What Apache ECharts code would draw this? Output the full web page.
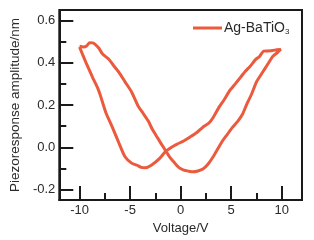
<!DOCTYPE html>
<html>
<head>
<meta charset="utf-8">
<script src="https://cdn.jsdelivr.net/npm/echarts@6/dist/echarts.min.js"></script>
<style>html,body{margin:0;padding:0;background:#fff;}#c{width:314px;height:240px;}</style>
</head>
<body>
<div id="c"></div>
<script>
// Sweep 1 (from -10 V up to +10 V)
var sweep1V = [-10.0, -9.7, -9.35, -8.7, -8.2, -7.9, -7.4, -6.8, -6.1, -5.5, -4.85, -4.3, -3.9, -3.5, -2.9, -2.1, -1.5, -0.9, -0.35, 0.3, 0.9, 1.6, 2.2, 2.8, 3.2, 3.8, 4.3, 4.8, 5.4, 5.9, 6.4, 6.9, 7.4, 7.8, 8.2, 8.6, 9.1, 9.5, 9.9];
var sweep1A = [0.475, 0.44, 0.40, 0.33, 0.28, 0.24, 0.165, 0.10, 0.02, -0.045, -0.075, -0.085, -0.095, -0.097, -0.085, -0.054, -0.02, 0.0, 0.015, 0.03, 0.048, 0.07, 0.095, 0.115, 0.14, 0.19, 0.225, 0.265, 0.30, 0.33, 0.36, 0.385, 0.415, 0.43, 0.455, 0.456, 0.458, 0.462, 0.463];
// Sweep 2 (from +10 V back to -10 V)
var sweep2V = [9.9, 9.6, 9.1, 8.7, 8.3, 7.9, 7.5, 7.0, 6.5, 6.1, 5.6, 5.1, 4.6, 4.15, 3.7, 3.2, 2.7, 2.2, 1.7, 1.25, 0.8, 0.3, -0.2, -0.67, -1.1, -1.5, -1.9, -2.3, -2.8, -3.2, -3.7, -4.2, -4.85, -5.5, -6.1, -6.6, -7.1, -7.7, -8.1, -8.4, -8.7, -9.0, -9.3, -9.6, -10.0];
var sweep2A = [0.463, 0.45, 0.43, 0.40, 0.37, 0.34, 0.31, 0.25, 0.20, 0.155, 0.12, 0.093, 0.06, 0.031, -0.005, -0.046, -0.08, -0.103, -0.112, -0.116, -0.113, -0.108, -0.095, -0.07, -0.045, -0.015, 0.015, 0.046, 0.085, 0.124, 0.16, 0.195, 0.262, 0.31, 0.355, 0.385, 0.417, 0.44, 0.47, 0.485, 0.494, 0.495, 0.48, 0.475, 0.478];
var seriesName = 'Ag-BaTiO3';
var xMajorTicks = [-10, -5, 0, 5, 10];
var xMinorTicks = [-7.5, -2.5, 2.5, 7.5];
var yMajorTicks = [-0.2, 0, 0.2, 0.4, 0.6];
var yMinorTicks = [-0.1, 0.1, 0.3, 0.5];

var loop = [];
for (var i = 0; i < sweep1V.length; i++) loop.push([sweep1V[i], sweep1A[i]]);
for (var j = 0; j < sweep2V.length; j++) loop.push([sweep2V[j], sweep2A[j]]);

var FONT = 'Liberation Sans, Arial, sans-serif';
var TXT = '#2a2a2a';
var AX = '#1a1a1a';
var chart = echarts.init(document.getElementById('c'));
chart.setOption({
  animation: false,
  grid: {left: 53, right: 12, top: 10, bottom: 36, show: true, borderColor: AX, borderWidth: 2, backgroundColor: 'transparent'},
  legend: {
    data: [seriesName], left: 188, top: 16, icon: 'rect', itemWidth: 29, itemHeight: 3,
    formatter: function () { return '{a|Ag-BaTiO}{b|3}'; },
    textStyle: {
      padding: [0, 0, 0, -3],
      rich: {
        a: {fontFamily: FONT, fontSize: 14, color: TXT},
        b: {fontFamily: FONT, fontSize: 8, color: TXT, padding: [8, 0, 0, 0]}
      }
    }
  },
  xAxis: [{
    type: 'value', min: -12, max: 12,
    name: 'Voltage/V', nameLocation: 'middle', nameGap: 18,
    nameTextStyle: {fontFamily: FONT, fontSize: 13, color: TXT},
    axisLine: {show: true, onZero: false, lineStyle: {color: AX, width: 2}},
    axisTick: {show: true, inside: true, length: 14, customValues: xMajorTicks, lineStyle: {color: AX, width: 2}},
    axisLabel: {customValues: xMajorTicks, margin: 4, fontFamily: FONT, fontSize: 13, color: TXT},
    splitLine: {show: false}
  }, {
    type: 'value', min: -12, max: 12, position: 'bottom',
    axisLine: {show: false, onZero: false},
    axisTick: {show: true, inside: true, length: 7, customValues: xMinorTicks, lineStyle: {color: AX, width: 2}},
    axisLabel: {show: false},
    splitLine: {show: false}
  }],
  yAxis: [{
    type: 'value', min: -0.25, max: 0.65,
    name: 'Piezoresponse amplitude/nm', nameLocation: 'middle', nameGap: 31,
    nameTextStyle: {fontFamily: FONT, fontSize: 13.5, color: TXT},
    axisLine: {show: true, onZero: false, lineStyle: {color: AX, width: 2}},
    axisTick: {show: true, inside: true, length: 14, customValues: yMajorTicks, lineStyle: {color: AX, width: 2}},
    axisLabel: {customValues: yMajorTicks, margin: 4, fontFamily: FONT, fontSize: 13, color: TXT,
      formatter: function (v) { return v.toFixed(1); }},
    splitLine: {show: false}
  }, {
    type: 'value', min: -0.25, max: 0.65, position: 'left',
    axisLine: {show: false, onZero: false},
    axisTick: {show: true, inside: true, length: 7, customValues: yMinorTicks, lineStyle: {color: AX, width: 2}},
    axisLabel: {show: false},
    splitLine: {show: false}
  }],
  series: [{
    name: seriesName, type: 'line', data: loop, xAxisIndex: 0, yAxisIndex: 0,
    showSymbol: false, symbol: 'none', smooth: 0.2,
    lineStyle: {color: '#ec5a3e', width: 3},
    itemStyle: {color: '#ec5a3e'}
  }]
});
</script>
</body>
</html>
